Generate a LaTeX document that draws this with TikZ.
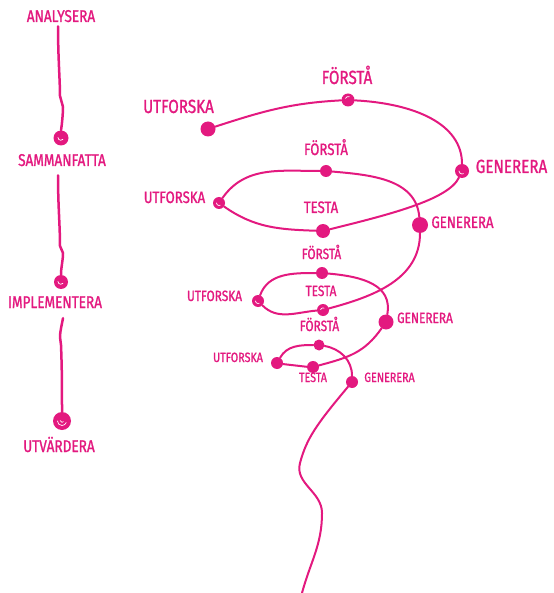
\documentclass[tikz,border=0pt]{standalone}
\usepackage{fontspec}
\setmainfont{Fira Sans}[FakeStretch=0.8,FakeBold=1.2]
\definecolor{mag}{HTML}{E3197F}
\begin{document}
\begin{tikzpicture}[x=1pt,y=1pt,line cap=round,line join=round,
  lbl/.style={text=mag,inner sep=0pt,anchor=base},
  lvlA/.style={lbl,font=\fontsize{19}{19}\selectfont},
  lvlL/.style={lbl,font=\fontsize{17}{17}\selectfont},
  lvlB/.style={lbl,font=\fontsize{16.5}{16.5}\selectfont},
  lvlC/.style={lbl,font=\fontsize{14.8}{14.8}\selectfont},
  lvlD/.style={lbl,font=\fontsize{13.4}{13.4}\selectfont},
  dot/.style={circle,fill=mag,draw=none,inner sep=0pt,minimum size=#1},
  curve/.style={draw=mag,line width=2pt},
  stem/.style={draw=mag,line width=2.5pt},
  swirl/.style={draw=white,line width=0.7pt}]
\useasboundingbox (0,0) rectangle (553,-593);

% ---- left column ----
\node[lvlL] (ana) at (61,-22) {ANALYSERA};
\node[lvlL] (sam) at (62,-166) {SAMMANFATTA};
\node[lvlL] (imp) at (55,-308) {IMPLEMENTERA};
\node[lvlL] (utv) at (59,-452) {UTVÄRDERA};
\node[dot=15pt] (d1) at (61,-138) {};
\node[dot=14pt] (d2) at (61,-282) {};
\node[dot=18pt] (d3) at (62,-421) {};
\draw[swirl] ([shift={(-3,0.5)}]d1.center) arc[start angle=180,end angle=320,radius=2.8];
\draw[swirl] ([shift={(-3,0.5)}]d2.center) arc[start angle=180,end angle=320,radius=2.8];
\draw[swirl] ([shift={(-4.5,0)}]d3.center) arc[start angle=180,end angle=340,radius=4.5];
\draw[swirl] ([shift={(-1.8,0.5)}]d3.center) arc[start angle=180,end angle=320,radius=1.8];

\draw[stem] ([shift={(-3,-4)}]ana.south) .. controls +(0,-30) and +(0,15) .. (60,-96)
   -- (63,-107) .. controls +(0,-6) and +(1,6) .. (d1.north);
\draw[stem] ([shift={(-4,-9)}]sam.south) .. controls +(0,-30) and +(0,20) .. (60,-246)
   -- (63,-253) .. controls +(0,-8) and +(0,8) .. (d2.north);
\draw[stem] ([shift={(8,-10)}]imp.south) .. controls +(-1,-6) and +(0,6) .. (60,-337)
   -- (61,-345) .. controls +(1,-25) and +(0,25) .. (d3.north);

% ---- spiral dots ----
\node[dot=15pt] (U1) at (208,-129) {};
\node[dot=13pt] (F1) at (348,-100) {};
\node[dot=14pt] (G1) at (462,-171) {};
\node[dot=12pt] (F2) at (326,-171) {};
\node[dot=12pt] (U2) at (219,-203) {};
\node[dot=14pt] (T1) at (323,-231) {};
\node[dot=16pt] (G2) at (420,-225) {};
\node[dot=12pt] (T2) at (323,-310) {};
\node[dot=12pt] (U3) at (258,-301) {};
\node[dot=12pt] (F3) at (322,-273) {};
\node[dot=15pt] (G3) at (386,-322) {};
\node[dot=11pt] (F4) at (319,-345) {};
\node[dot=12pt] (U4) at (277,-363) {};
\node[dot=12pt] (T3) at (313,-367) {};
\node[dot=12pt] (G4) at (352,-382) {};
\coordinate (E1) at (300,-463);
\coordinate (E2) at (322,-513);
\coordinate (E3) at (302,-593);

\draw[swirl] ([shift={(-2.5,1.5)}]F1.center) arc[start angle=160,end angle=70,radius=3];
\draw[swirl] ([shift={(-3,0)}]G1.center) arc[start angle=180,end angle=300,radius=3];
\draw[swirl] ([shift={(-2.5,0)}]U2.center) arc[start angle=180,end angle=300,radius=2.5];
\draw[swirl] ([shift={(-2.5,0.5)}]T2.center) arc[start angle=160,end angle=60,radius=2.5];
\draw[swirl] ([shift={(-2.5,0)}]U3.center) arc[start angle=180,end angle=300,radius=2.5];

% ---- spiral curve ----
\draw[curve] (U1) to[out=18,in=183] (F1);
\draw[curve] (F1) to[out=-3,in=90,out distance=60,in distance=40] (G1);
\draw[curve] (G1) to[out=-115,in=14,out distance=25,in distance=58] (T1);
\draw[curve] (T1) to[out=178,in=-35] (U2);
\draw[curve] (U2) to[out=55,in=180] (F2);
\draw[curve] (F2) to[out=-5,in=95] (G2);
\draw[curve] (G2) to[out=-90,in=15] (T2);
\draw[curve] (T2) to[out=185,in=-45] (U3);
\draw[curve] (U3) to[out=70,in=180] (F3);
\draw[curve] (F3) to[out=-5,in=80,out distance=35,in distance=30] (G3);
\draw[curve] (G3) to[out=-125,in=15,out distance=30,in distance=30] (T3);
\draw[curve] (T3) to[out=178,in=-10,out distance=12,in distance=12] (U4);
\draw[curve] (U4) to[out=60,in=180] (F4);
\draw[curve] (F4) to[out=-10,in=90] (G4);
\draw[curve] (G4) to[out=-130,in=75,out distance=50,in distance=25] (E1)
   to[out=-105,in=90] (E2) to[out=-90,in=75] (E3);

% ---- spiral labels ----
\node[lvlA] (lU1) at (178.5,-113) {UTFORSKA};
\node[lvlA] (lF1) at (347,-84) {FÖRSTÅ};
\node[lvlA] (lG1) at (511.5,-173) {GENERERA};
\node[lvlB] (lF2) at (326,-155) {FÖRSTÅ};
\node[lvlB] (lU2) at (174.5,-203) {UTFORSKA};
\node[lvlB] (lT1) at (321,-213) {TESTA};
\node[lvlB] (lG2) at (462.5,-228) {GENERERA};
\node[lvlC] (lF3) at (321.5,-259) {FÖRSTÅ};
\node[lvlC] (lT2) at (321,-296) {TESTA};
\node[lvlC] (lU3) at (214.5,-301) {UTFORSKA};
\node[lvlC] (lG3) at (425,-323) {GENERERA};
\node[lvlC] (lF4) at (319.5,-331) {FÖRSTÅ};
\node[lvlD] (lU4) at (238,-362) {UTFORSKA};
\node[lvlD] (lT3) at (313,-382) {TESTA};
\node[lvlD] (lG4) at (389.5,-382) {GENERERA};
\end{tikzpicture}
\end{document}
